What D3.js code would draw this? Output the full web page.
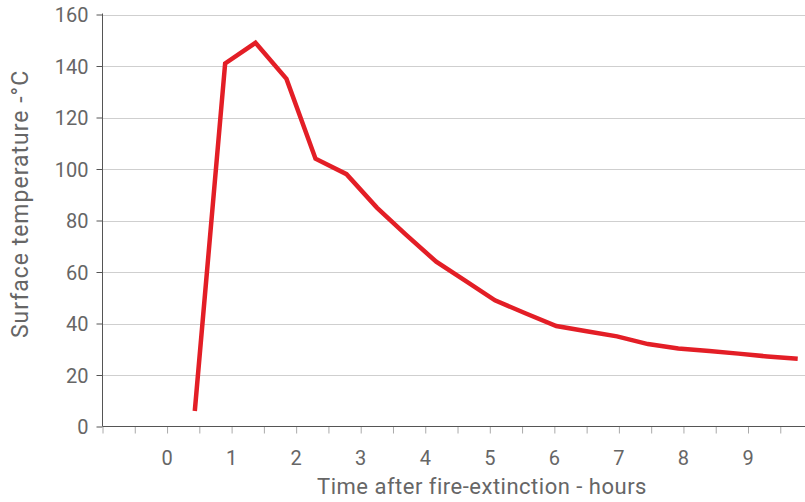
<!DOCTYPE html>
<html><head><meta charset="utf-8">
<script src="https://cdn.jsdelivr.net/npm/d3@7/dist/d3.min.js"></script>
<style>body{margin:0;background:#fff}svg{display:block}text{font-family:Roboto,"DejaVu Sans",sans-serif;fill:#666}</style>
</head><body><svg id="c" width="805" height="502"></svg>
<script>
const hours = [0.43, 0.9, 1.37, 1.85, 2.3, 2.78, 3.25, 3.7, 4.17, 4.63, 5.08, 5.55, 6.03, 6.5, 6.97, 7.45, 7.92, 8.4, 8.85, 9.3, 9.77];
const temps = [6, 141, 149, 135, 104, 98, 85, 74.5, 64, 56.5, 49, 44, 39, 37, 35, 32, 30.3, 29.3, 28.3, 27.2, 26.3];
const yTicks = [0, 20, 40, 60, 80, 100, 120, 140, 160];
const xLabels = [0, 1, 2, 3, 4, 5, 6, 7, 8, 9];
const xTicks = d3.range(-1, 9.6, 0.5);

const svg = d3.select("#c");
const L = 102.5, R = 805, T = 14.5, B = 426.5;
const x = d3.scaleLinear().domain([-1, 9]).range([L, 748]);
const y = d3.scaleLinear().domain([0, 160]).range([B, T]);

// grid
svg.append("g").selectAll("line").data(yTicks.filter(d => d > 0)).join("line")
  .attr("x1", L).attr("x2", R).attr("y1", d => Math.round(y(d)) + 0.5).attr("y2", d => Math.round(y(d)) + 0.5)
  .attr("stroke", "#cfcfcf").attr("stroke-width", 1);

// y axis
const ya = svg.append("g").attr("transform", `translate(${L},0)`)
  .call(d3.axisLeft(y).tickValues(yTicks).tickSize(6).tickPadding(8));
ya.select(".domain").remove();
ya.selectAll(".tick line").attr("stroke", "#555");
ya.selectAll(".tick text").style("font-size", "20px").attr("fill", "#666").attr("dy", "0.35em");
svg.append("line").attr("x1", L).attr("x2", L).attr("y1", T - 1).attr("y2", B).attr("stroke", "#555").attr("stroke-width", 1);

// x axis
const xa = svg.append("g").attr("transform", `translate(0,${B})`)
  .call(d3.axisBottom(x).tickValues(xTicks).tickSize(7).tickFormat(""));
xa.select(".domain").remove();
xa.selectAll(".tick line").attr("stroke", "#aaa");
svg.append("line").attr("x1", L).attr("x2", R).attr("y1", B).attr("y2", B).attr("stroke", "#555").attr("stroke-width", 1);
svg.append("g").selectAll("text").data(xLabels).join("text")
  .attr("x", d => x(d)).attr("y", 465).attr("text-anchor", "middle")
  .style("font-size", "20px").text(d => d);

// titles
svg.append("text").attr("x", 482).attr("y", 494).attr("text-anchor", "middle")
  .style("font-size", "22px").style("letter-spacing", "0.5px").text("Time after fire-extinction - hours");
svg.append("text").attr("transform", "translate(28,204) rotate(-90)").attr("text-anchor", "middle")
  .style("font-size", "23px").style("letter-spacing", "1px").text("Surface temperature -°C");

// line
const line = d3.line().x((d, i) => x(hours[i])).y(d => y(d));
svg.append("path").datum(temps).attr("d", line).attr("fill", "none")
  .attr("stroke", "#e31e26").attr("stroke-width", 4.5).attr("stroke-linejoin", "miter");
</script></body></html>
